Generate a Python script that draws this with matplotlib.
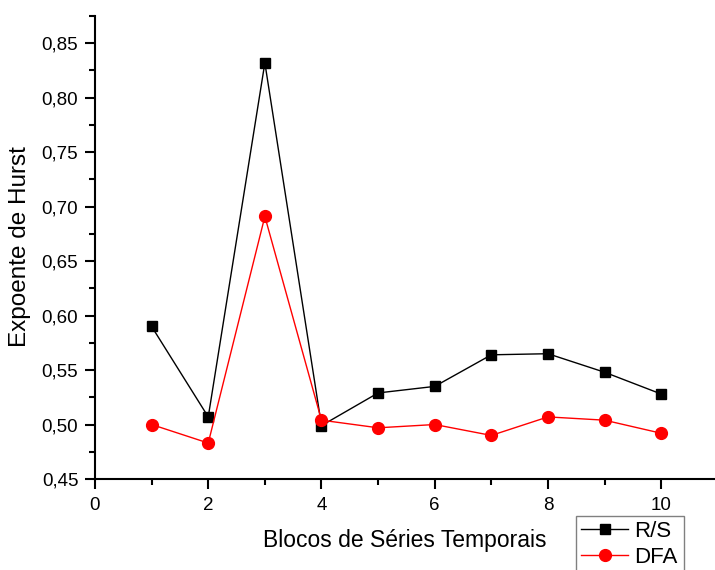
import matplotlib.pyplot as plt
from matplotlib.ticker import MultipleLocator, FuncFormatter

plt.rcParams['font.family'] = ['Liberation Sans', 'DejaVu Sans']

# Blocos e expoentes de Hurst estimados por cada método
blocos = [1, 2, 3, 4, 5, 6, 7, 8, 9, 10]
hurst_rs = [0.590, 0.507, 0.832, 0.499, 0.529, 0.535, 0.564, 0.565, 0.548, 0.528]
hurst_dfa = [0.500, 0.483, 0.691, 0.504, 0.497, 0.500, 0.490, 0.507, 0.504, 0.492]

fig = plt.figure(figsize=(7.15, 5.7), dpi=100)
ax = fig.add_axes([95 / 715, 1 - 479 / 570, 620 / 715, 463 / 570])

ax.plot(blocos, hurst_rs, color='black', lw=1.0, marker='s', markersize=7.5,
        label='R/S', clip_on=False, zorder=3)
ax.plot(blocos, hurst_dfa, color='#ff0000', lw=1.0, marker='o', markersize=8.5,
        label='DFA', clip_on=False, zorder=4)

ax.set_xlim(0, 10.95)
ax.set_ylim(0.45, 0.875)

# Eixos no estilo Origin: só esquerda e baixo, ticks para fora
for lado in ['top', 'right']:
    ax.spines[lado].set_visible(False)
for lado in ['left', 'bottom']:
    ax.spines[lado].set_linewidth(1.5)

ax.xaxis.set_major_locator(MultipleLocator(2))
ax.xaxis.set_minor_locator(MultipleLocator(1))
ax.yaxis.set_major_locator(MultipleLocator(0.05))
ax.yaxis.set_minor_locator(MultipleLocator(0.025))
ax.yaxis.set_major_formatter(FuncFormatter(lambda v, p: f"{v:.2f}".replace('.', ',')))

ax.tick_params(which='major', direction='out', length=7, width=1.5, labelsize=13.5, pad=5)
ax.tick_params(which='minor', direction='out', length=4, width=1.5)
ax.tick_params(axis='x', which='major', pad=6)

ax.set_xlabel('Blocos de Séries Temporais', fontsize=16.5)
ax.xaxis.set_label_coords(0.5, -0.132)
ax.xaxis.label.set_va('center')
ax.set_ylabel('Expoente de Hurst', fontsize=17.5)
ax.yaxis.set_label_coords(-0.121, 0.503)
ax.yaxis.label.set_va('center')

leg = fig.legend(loc='upper left', bbox_to_anchor=(575.7 / 715, 1 - 515.7 / 570),
                 borderaxespad=0, fontsize=16, fancybox=False, framealpha=1,
                 edgecolor='#808080', handlelength=2.1, handletextpad=0.3,
                 borderpad=0.25, labelspacing=0.2)
leg.get_frame().set_linewidth(1.0)

fig.savefig('out.png', dpi=100, facecolor='white')
